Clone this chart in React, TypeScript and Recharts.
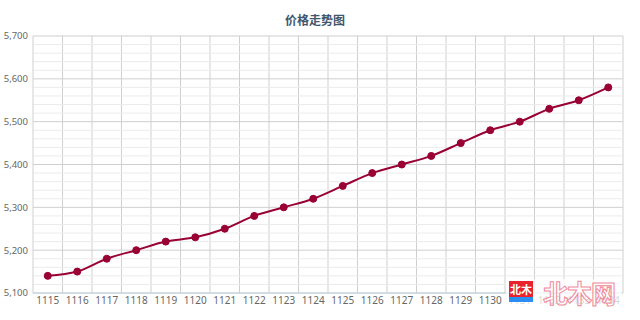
import { LineChart, Line, XAxis, YAxis, CartesianGrid, ReferenceLine } from 'recharts';

const periods = [
  '1115', '1116', '1117', '1118', '1119', '1120', '1121', '1122', '1123', '1124',
  '1125', '1126', '1127', '1128', '1129', '1130', '1131', '1132', '1133', '1134',
];

const prices = [
  5140, 5150, 5180, 5200, 5220, 5230, 5250, 5280, 5300, 5320,
  5350, 5380, 5400, 5420, 5450, 5480, 5500, 5530, 5550, 5580,
];

const yTicks = [5100, 5200, 5300, 5400, 5500, 5600, 5700];

const yMinorTicks = [
  5120, 5140, 5160, 5180, 5220, 5240, 5260, 5280, 5320, 5340, 5360, 5380,
  5420, 5440, 5460, 5480, 5520, 5540, 5560, 5580, 5620, 5640, 5660, 5680,
];

const data = periods.map((p, i) => ({ period: p, price: prices[i] }));

const labelFont = '"Noto Sans", sans-serif';

// grid lines sit on category boundaries, not on the ticks
const boundaryLines = ({ offset }: any) => {
  const n = periods.length;
  const out: number[] = [];
  for (let i = 1; i <= n; i++) out.push(offset.left + (offset.width * i) / n);
  return out;
};

export default function App() {
  return (
    <div style={{ position: 'absolute', left: 0, top: 0, width: 640, height: 320, background: '#fff' }}>
      <div
        style={{
          position: 'absolute',
          left: 0,
          top: 11,
          width: 630,
          textAlign: 'center',
          fontFamily: '"Noto Sans CJK SC", sans-serif',
          fontWeight: 700,
          fontSize: 12,
          color: '#3e576f',
          lineHeight: '18px',
        }}
      >
        价格走势图
      </div>
      <LineChart width={640} height={320} data={data} margin={{ top: 36, right: 17, left: 0, bottom: 0 }}>
        <CartesianGrid
          stroke="#cfcfcf"
          strokeWidth={1}
          verticalCoordinatesGenerator={boundaryLines}
        />
        {yMinorTicks.map((v) => (
          <ReferenceLine key={v} y={v} stroke="#ebebeb" strokeWidth={1} />
        ))}
        <XAxis
          dataKey="period"
          scale="band"
          height={27}
          interval={0}
          tickLine={false}
          tickSize={0}
          tickMargin={4}
          axisLine={{ stroke: '#c0d0e0' }}
          tick={{ fill: '#666666', fontSize: 10, fontFamily: labelFont }}
        />
        <YAxis
          width={33}
          domain={[5100, 5700]}
          ticks={yTicks}
          tickLine={false}
          tickSize={0}
          tickMargin={5}
          axisLine={{ stroke: '#d0d0d0' }}
          tickFormatter={(v: number) => v.toLocaleString('en-US')}
          tick={{ fill: '#666666', fontSize: 9.5, fontFamily: labelFont }}
        />
        <Line
          type="monotone"
          dataKey="price"
          stroke="#990033"
          strokeWidth={2}
          dot={{ r: 3.5, fill: '#990033', stroke: '#990033', strokeWidth: 1 }}
          isAnimationActive={false}
        />
      </LineChart>
      <div
        style={{
          position: 'absolute',
          left: 506,
          top: 279,
          width: 116,
          height: 28,
          background: 'rgba(255,255,255,0.75)',
        }}
      >
        <div
          style={{
            position: 'absolute',
            left: 3,
            top: 2,
            width: 24,
            height: 16,
            background: '#e8232c',
            color: '#fff',
            fontFamily: '"Noto Sans CJK SC", sans-serif',
            fontWeight: 700,
            fontSize: 11,
            lineHeight: '16px',
            textAlign: 'center',
          }}
        >
          北木
        </div>
        <div style={{ position: 'absolute', left: 3, top: 18, width: 24, height: 5, background: '#2a8ff0' }} />
        <div
          style={{
            position: 'absolute',
            left: 37,
            top: -2,
            fontFamily: '"Noto Sans CJK SC", sans-serif',
            fontWeight: 700,
            fontSize: 25,
            lineHeight: '30px',
            color: 'transparent',
            WebkitTextStroke: '1px #f08a9a',
            letterSpacing: -1,
          }}
        >
          北木网
        </div>
      </div>
    </div>
  );
}
